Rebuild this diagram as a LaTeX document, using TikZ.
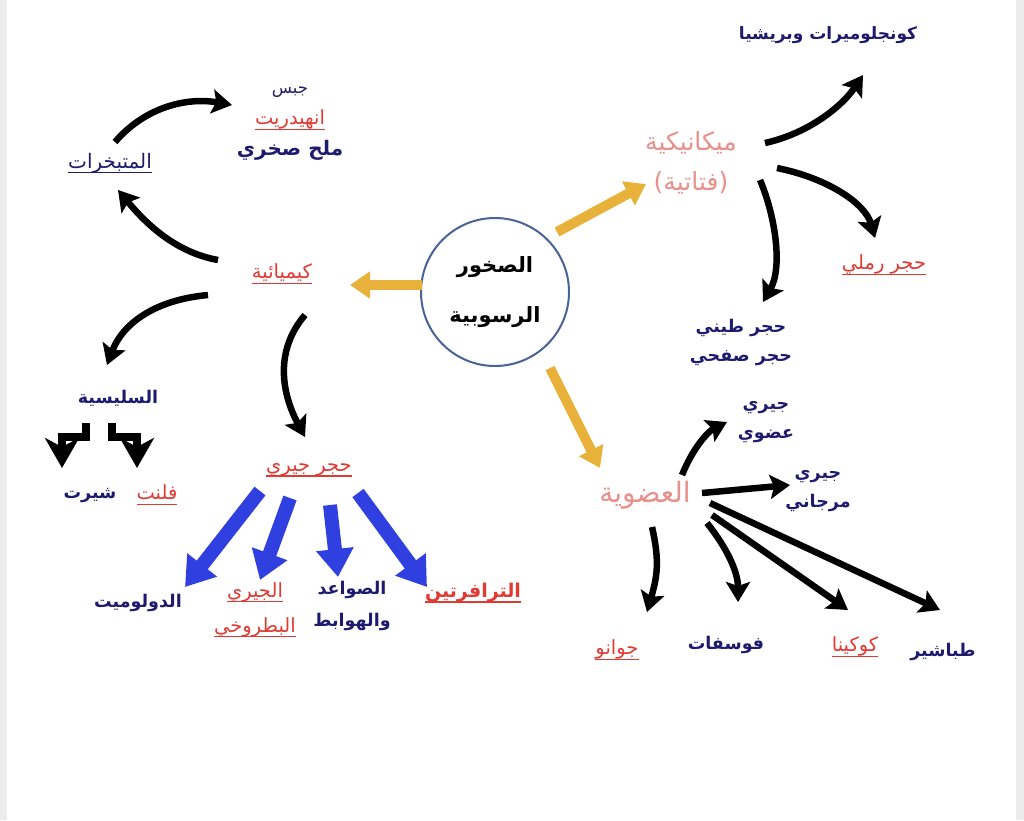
\documentclass[tikz,border=0pt]{standalone}
\usepackage{fontspec}
\usetikzlibrary{arrows.meta}
\TeXXeTstate=1
\newfontfamily\arabicfont[Script=Arabic]{DejaVu Sans}
\definecolor{textnavy}{HTML}{1E1B6E}
\definecolor{textred}{HTML}{E03A33}
\definecolor{textpink}{HTML}{E8908C}
\definecolor{circleblue}{HTML}{4A6396}
\definecolor{goldfill}{HTML}{E8B23A}
\definecolor{arrowblue}{HTML}{3040E0}
\newsavebox\ulbox
\newcommand{\ar}[1]{{\arabicfont\beginR #1\endR}}
\newcommand{\arul}[1]{\sbox\ulbox{\ar{#1}}\rlap{\rule[-5pt]{\wd\ulbox}{1.3pt}}\usebox\ulbox}

\begin{document}
\begin{tikzpicture}[x=1pt, y=-1pt,
    every node/.style={inner sep=1pt, align=center},
    navylbl/.style={text=textnavy, font=\fontsize{17.5}{29}\selectfont\bfseries},
    redlbl/.style={text=textred, font=\fontsize{19.5}{35}\selectfont},
    pinklbl/.style={text=textpink, font=\fontsize{25}{40}\selectfont},
    blkarrow/.style={line width=6.5pt, -{Stealth[length=20pt,width=24pt,inset=4pt]}},
    elbowarrow/.style={line width=7.5pt, -{Stealth[length=30pt,width=34pt,inset=9pt]}},
    bluearrow/.style={line width=14pt, draw=arrowblue, -{Triangle[length=28pt,width=36pt]}},
    goldarrow/.style={line width=10pt, draw=goldfill, -{Triangle[length=20pt,width=26pt]}}]
        \useasboundingbox (0,0) rectangle (1024,820);
        \fill[gray!15] (0,0) rectangle (7,820);
        \fill[gray!15] (1016,0) rectangle (1024,820);

        % Nodes
        \node[circle, draw=circleblue, line width=2pt, minimum size=148pt, fill=white,
              font=\fontsize{21}{50}\selectfont\bfseries] (rocks) at (495,292) {\ar{الصخور}\\\ar{الرسوبية}};
        \node[redlbl] (chem) at (282,274) {\arul{كيميائية}};
        \node[navylbl, font=\fontsize{20}{24}\selectfont] (evap) at (110,163) {\arul{المتبخرات}};
        \node[navylbl, font=\fontsize{16.5}{20}\selectfont] (gyp) at (290,92) {\ar{جبس}};
        \node[redlbl] (anhy) at (290,120) {\arul{انهيدريت}};
        \node[navylbl, font=\fontsize{20}{24}\selectfont\bfseries] (halite) at (290,150) {\ar{ملح صخري}};
        \node[navylbl] (silic) at (118,398) {\ar{السليسية}};
        \node[navylbl] (chert) at (90,495) {\ar{شيرت}};
        \node[redlbl] (flint) at (157,495) {\arul{فلنت}};
        \node[redlbl] (lime) at (309,470) {\arul{حجر جيري}};
        \node[navylbl] (dolo) at (138,603) {\ar{الدولوميت}};
        \node[redlbl] (oolit) at (255,610) {\arul{الجيري}\\\arul{البطروخي}};
        \node[navylbl, font=\fontsize{17.5}{32}\selectfont\bfseries] (stal) at (352,606) {\ar{الصواعد}\\\ar{والهوابط}};
        \node[redlbl, font=\fontsize{19}{22}\selectfont\bfseries] (trav) at (473,593) {\arul{الترافرتين}};
        \node[pinklbl] (mech) at (691,163) {\ar{ميكانيكية}\\\ar{(فتاتية)}};
        \node[navylbl, font=\fontsize{17}{20}\selectfont\bfseries] (congl) at (828,35) {\ar{كونجلوميرات وبريشيا}};
        \node[redlbl] (sand) at (884,265) {\arul{حجر رملي}};
        \node[navylbl] (shale) at (741,342) {\ar{حجر طيني}\\\ar{حجر صفحي}};
        \node[pinklbl, font=\fontsize{28}{32}\selectfont] (org) at (645,495) {\ar{العضوية}};
        \node[navylbl] (orglime) at (766,422) {\ar{جيري}\\\ar{عضوي}};
        \node[navylbl] (coral) at (818,491) {\ar{جيري}\\\ar{مرجاني}};
        \node[redlbl] (guano) at (617,650) {\arul{جوانو}};
        \node[navylbl] (phos) at (726,645) {\ar{فوسفات}};
        \node[redlbl] (coq) at (855,647) {\arul{كوكينا}};
        \node[navylbl] (chalk) at (943,652) {\ar{طباشير}};

        % Edges
        \draw[goldarrow] ([shift={(-73,-7)}]rocks.center) -- ([shift={(68,11)}]chem.center);
        \draw[goldarrow] ([shift={(62,-60)}]rocks.center) -- ([shift={(-45,21)}]mech.center);
        \draw[goldarrow] ([shift={(55,76)}]rocks.center) -- ([shift={(-45,-27)}]org.center);

        \draw[blkarrow] ([shift={(-64,-14)}]chem.center) .. controls +(-45,-8) and +(25,30) .. ([shift={(8,27)}]evap.center);
        \draw[blkarrow] ([shift={(5,-21)}]evap.center) .. controls +(30,-35) and +(-45,-8) .. ([shift={(-58,-15)}]anhy.center);
        \draw[blkarrow] ([shift={(-74,21)}]chem.center) .. controls +(-55,5) and +(15,-40) .. ([shift={(-11,-33)}]silic.center);
        \draw[blkarrow] ([shift={(23,41)}]chem.center) .. controls +(-30,35) and +(-24,-45) .. ([shift={(-4,-33)}]lime.center);
        \draw[elbowarrow] ([shift={(-32,25)}]silic.center) |- ++(-24,14) -- ([shift={(-28,-27)}]chert.center);
        \draw[elbowarrow] ([shift={(-6,25)}]silic.center) |- ++(25,14) -- ([shift={(-20,-27)}]flint.center);

        \draw[bluearrow] ([shift={(-49,21)}]lime.center) -- ([shift={(47,-16)}]dolo.center);
        \draw[bluearrow] ([shift={(-19,28)}]lime.center) -- ([shift={(5,-30)}]oolit.center);
        \draw[bluearrow] ([shift={(21,35)}]lime.center) -- ([shift={(-14,-29)}]stal.center);
        \draw[bluearrow] ([shift={(49,23)}]lime.center) -- ([shift={(-46,-6)}]trav.center);

        \draw[blkarrow] ([shift={(74,-20)}]mech.center) .. controls +(45,-10) and +(-20,30) .. ([shift={(35,40)}]congl.center);
        \draw[blkarrow] ([shift={(86,5)}]mech.center) .. controls +(50,10) and +(-10,-35) .. ([shift={(-9,-27)}]sand.center);
        \draw[blkarrow] ([shift={(69,17)}]mech.center) .. controls +(15,35) and +(20,-35) .. ([shift={(22,-40)}]shale.center);

        \draw[blkarrow] ([shift={(37,-20)}]org.center) .. controls +(10,-25) and +(-20,10) .. ([shift={(-39,0)}]orglime.center);
        \draw[blkarrow] ([shift={(57,-2)}]org.center) -- ([shift={(-28,-6)}]coral.center);
        \draw[blkarrow] ([shift={(7,32)}]org.center) .. controls +(8,35) and +(10,-35) .. ([shift={(30,-38)}]guano.center);
        \draw[blkarrow] ([shift={(62,28)}]org.center) .. controls +(20,25) and +(0,-30) .. ([shift={(12,-43)}]phos.center);
        \draw[blkarrow] ([shift={(67,20)}]org.center) -- ([shift={(-7,-37)}]coq.center);
        \draw[blkarrow] ([shift={(65,8)}]org.center) -- ([shift={(-3,-42)}]chalk.center);
    \end{tikzpicture}
\end{document}
